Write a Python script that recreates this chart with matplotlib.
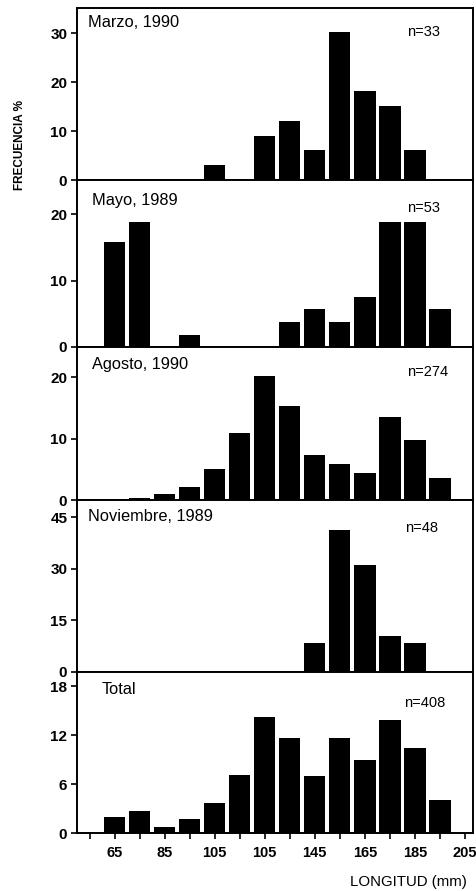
import matplotlib
matplotlib.use("Agg")
import matplotlib.pyplot as plt

plt.rcParams["font.family"] = ["Liberation Sans", "DejaVu Sans"]

# length class midpoints (mm)
clases = [65, 75, 85, 95, 105, 115, 125, 135, 145, 155, 165, 175, 185, 195]

marzo_1990 = [0, 0, 0, 0, 3.0, 0, 9.1, 12.1, 6.1, 30.3, 18.2, 15.2, 6.1, 0]
mayo_1989 = [15.9, 18.9, 0, 1.8, 0, 0, 0, 3.8, 5.7, 3.8, 7.5, 18.9, 18.9, 5.7]
agosto_1990 = [0, 0.3, 1.0, 2.05, 5.1, 11.0, 20.3, 15.3, 7.4, 5.9, 4.4, 13.6, 9.8, 3.6]
noviembre_1989 = [0, 0, 0, 0, 0, 0, 0, 0, 8.4, 41.4, 31.1, 10.4, 8.5, 0]
total = [2.05, 2.75, 0.8, 1.7, 3.7, 7.1, 14.3, 11.7, 7.0, 11.7, 9.0, 13.9, 10.5, 4.1]

series = [marzo_1990, mayo_1989, agosto_1990, noviembre_1989, total]
titulos = ["Marzo, 1990", "Mayo, 1989", "Agosto, 1990", "Noviembre, 1989", "Total"]
n_muestra = ["n=33", "n=53", "n=274", "n=48", "n=408"]
y_ticks = [[0, 10, 20, 30], [0, 10, 20], [0, 10, 20], [0, 15, 30, 45], [0, 6, 12, 18]]
y_top = [35.2, 25.2, 25.0, 50.0, 19.8]

x_tick_pos = [65, 85, 105, 125, 145, 165, 185, 205]
x_tick_lab = ["65", "85", "105", "105", "145", "165", "185", "205"]
x_minor = [55, 75, 95, 115, 135, 155, 175, 195]

# panel edges in pixels (top, bottom)
W, H = 477, 891
bordes = [(8, 180), (180, 346.7), (346.7, 500), (500, 671.7), (671.7, 833.3)]
left_px, right_px = 77, 473
# label placement in axes fraction: title x, title y, n right x, n y
pos_txt = [(0.028, 0.913, 0.917, 0.860),
           (0.038, 0.880, 0.917, 0.832),
           (0.038, 0.881, 0.937, 0.835),
           (0.028, 0.901, 0.912, 0.837),
           (0.061, 0.887, 0.929, 0.806)]

fig = plt.figure(figsize=(W / 100, H / 100), dpi=100)

for i, vals in enumerate(series):
    top, bot = bordes[i]
    ax = fig.add_axes([left_px / W, 1 - bot / H, (right_px - left_px) / W, (bot - top) / H])
    ax.bar(clases, vals, width=8.5, color="black", edgecolor="none")
    ax.set_xlim(50, 208.2)
    ax.set_ylim(0, y_top[i])
    ax.set_yticks(y_ticks[i])
    ax.tick_params(axis="y", direction="out", length=4, width=1.2, labelsize=11, pad=3)
    for lab in ax.get_yticklabels():
        lab.set_fontweight("bold")
    for s in ax.spines.values():
        s.set_linewidth(1.4)
    tx, ty, nx, ny = pos_txt[i]
    ax.text(tx, ty, titulos[i], transform=ax.transAxes, fontsize=11.8, va="center", ha="left")
    ax.text(nx, ny, n_muestra[i], transform=ax.transAxes, fontsize=10.5, va="center", ha="right")
    if i < len(series) - 1:
        ax.set_xticks([])
    else:
        ax.set_xticks(x_tick_pos)
        ax.set_xticklabels(x_tick_lab, fontweight="bold")
        ax.set_xticks(x_minor, minor=True)
        ax.tick_params(axis="x", which="both", direction="out", length=4, width=1.2,
                       labelsize=10.5, pad=5)

fig.text(20 / W, 1 - 145 / H, "FRECUENCIA %", rotation=90, fontsize=8.5,
         fontweight="bold", ha="center", va="center")
fig.text(408 / W, 1 - 882 / H, "LONGITUD (mm)", fontsize=10.8, ha="center", va="center")

fig.savefig("out.png", dpi=100)
